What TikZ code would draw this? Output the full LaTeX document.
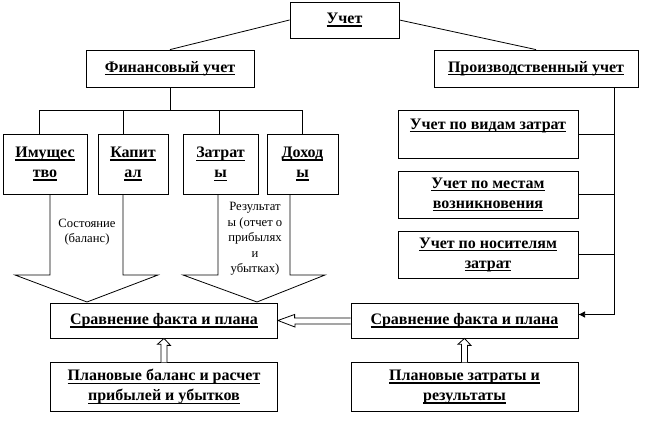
\documentclass[tikz,border=0pt]{standalone}
\usepackage{fontspec}
\setmainfont{Liberation Serif}
\usetikzlibrary{arrows.meta}

\newcommand\undl[1]{\setbox0\hbox{#1}\rlap{\rule[-2.4pt]{\wd0}{1pt}}\box0}

\tikzstyle{acct}=[rectangle, draw, fill=white, inner sep=0pt, align=center, font=\fontsize{12}{15}\selectfont\bfseries]
\tikzstyle{note}=[inner sep=0pt, align=center, font=\fontsize{9.5}{11.6}\selectfont]
\tikzstyle{fat}=[draw, fill=white]

\begin{document}
\begin{tikzpicture}[x=0.75pt, y=-0.75pt, line width=0.6pt]
\useasboundingbox (0,0) rectangle (651,423);

\draw[fat] (50,194) -- (50,275) -- (15,275) -- (87,302) -- (158,275) -- (123,275) -- (123,194);
\draw[fat] (218,194) -- (218,275) -- (183,275) -- (257,302) -- (325,275) -- (290,275) -- (290,194);

\node[acct, minimum width=81.75pt, minimum height=27pt] (uchet) at (344.5,20) {\undl{Учет}};
\node[acct, minimum width=126pt, minimum height=27.75pt] (fin) at (170,68.5) {\undl{Финансовый учет}};
\node[acct, minimum width=153pt, minimum height=27.75pt] (proizv) at (536,68.5) {\undl{Производственный учет}};
\draw (uchet.west) -- (fin.north);
\draw (uchet.east) -- (proizv.north);

\node[acct, minimum width=63pt, minimum height=45pt] (imu) at (45,164) {\undl{Имущес}\\\undl{тво}};
\node[acct, minimum width=52.5pt, minimum height=45pt] (kap) at (133,164) {\undl{Капит}\\\undl{ал}};
\node[acct, minimum width=56.25pt, minimum height=45pt] (zat) at (220.5,164) {\undl{Затрат}\\\undl{ы}};
\node[acct, minimum width=53.25pt, minimum height=45pt] (doh) at (302.5,164) {\undl{Доход}\\\undl{ы}};
\draw (fin.south) -- ++(0,23) coordinate (bus);
\draw ([xshift=-4.5pt]bus -| imu.north) -- (bus -| doh.north);
\draw ([xshift=-4.5pt]imu.north) -- ([xshift=-4.5pt]bus -| imu.north);
\draw ([xshift=-7.5pt]kap.north) -- ([xshift=-7.5pt]bus -| kap.north);
\draw ([xshift=-1pt]zat.north) -- ([xshift=-1pt]bus -| zat.north);
\draw (doh.north) -- (bus -| doh.north);

\node[note] (sost) at (87,232) {Состояние\\(баланс)};
\node[note] (rez) at (255,239) {Результат\\ы (отчет о\\прибылях\\и\\убытках)};

\node[acct, minimum width=135pt, minimum height=36pt] (vid) at (488,134) {\undl{Учет по видам затрат}\\\mbox{}};
\node[acct, minimum width=135pt, minimum height=35.25pt] (mest) at (488,194.5) {\undl{Учет по местам}\\\undl{возникновения}};
\node[acct, minimum width=135pt, minimum height=35.25pt] (nos) at (488,254.5) {\undl{Учет по носителям}\\\undl{затрат}};

\node[acct, minimum width=170.25pt, minimum height=26.25pt] (cmpL) at (164,320.5) {\undl{Сравнение факта и плана}};
\node[acct, minimum width=170.25pt, minimum height=26.25pt] (cmpR) at (464.5,320.5) {\undl{Сравнение факта и плана}};
\node[acct, minimum width=170.25pt, minimum height=36.5pt] (planL) at (164,387) {\undl{Плановые баланс и расчет}\\\undl{прибылей и убытков}};
\node[acct, minimum width=170.25pt, minimum height=36.5pt] (planR) at (464.5,387) {\undl{Плановые затраты и}\\\undl{результаты}};

\coordinate (rail) at ([xshift=58.5pt]proizv.south);
\draw[-{Latex[length=5pt,width=5pt]}] (rail) |- ([yshift=4.5pt]cmpR.east);
\draw (vid.east) -- (vid.east -| rail);
\draw (mest.east) -- (mest.east -| rail);
\draw (nos.east) -- (nos.east -| rail);

\draw[fat] ([yshift=1.9pt]cmpR.west) -- ++(-56,0) -- ++(0,-3.5) -- (cmpL.east) -- ++(17,6.5) -- ++(0,-3) -- ([yshift=-2.6pt]cmpR.west);
\draw[fat] ([xshift=-2.25pt]planL.north) -- ++(0,-18) -- ++(-3.5,0) -- (cmpL.south) -- ++(6.5,7) -- ++(-3.5,0) -- ([xshift=2.25pt]planL.north);
\draw[fat] ([xshift=-2.25pt]planR.north) -- ++(0,-18) -- ++(-3.5,0) -- (cmpR.south) -- ++(6.5,7) -- ++(-3.5,0) -- ([xshift=2.25pt]planR.north);
\end{tikzpicture}
\end{document}
